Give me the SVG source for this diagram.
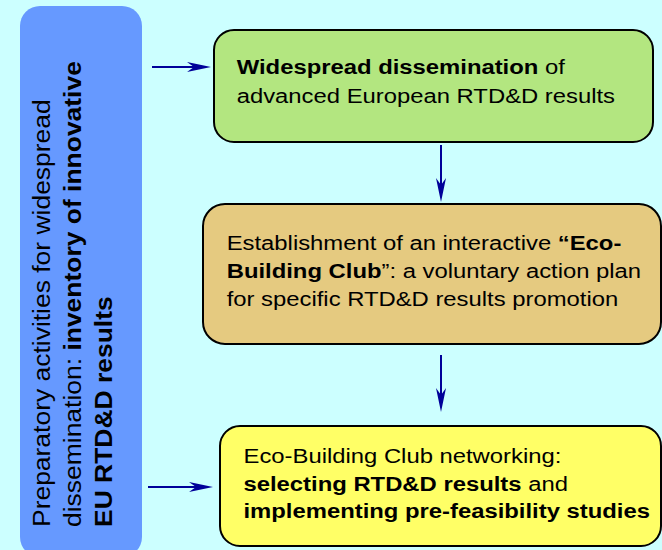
<svg xmlns="http://www.w3.org/2000/svg" width="662" height="550" viewBox="0 0 662 550">
<style>
.box{stroke:#000;stroke-width:2}
.t{font-family:"Liberation Sans",Arial,Helvetica,sans-serif;font-size:21px;fill:#000}
.lt{font-family:"Liberation Sans",Arial,Helvetica,sans-serif;font-size:24.5px;fill:#000}
.b{font-weight:bold}
.conn{stroke:#000099;stroke-width:2;fill:none;marker-end:url(#ah)}
</style>
<defs>
<marker id="ah" markerUnits="userSpaceOnUse" markerWidth="24" markerHeight="10" viewBox="0 0 24 10" refX="16" refY="5" orient="auto">
<path d="M0,0 L24,5 L0,10 L7,5 z" fill="#000099"/>
</marker>
</defs>
<rect x="0" y="0" width="662" height="550" fill="#CCFFFF"/>
<g id="prep">
<rect x="20" y="6" width="122" height="551" rx="20" ry="20" fill="#6699FF"/>
<g transform="translate(50,527) rotate(-90) scale(1.08,1)">
<text class="lt" x="0" y="0">Preparatory activities for widespread</text>
<text class="lt" x="0" y="31.5">dissemination: <tspan class="b">inventory of innovative</tspan></text>
<text class="lt b" x="0" y="61.7">EU RTD&amp;D results</text>
</g>
</g>
<g id="dissemination">
<rect class="box" x="214" y="30" width="439" height="112" rx="20" ry="20" fill="#B3E680"/>
<g transform="translate(236.7,74.3) scale(1.135,1)">
<text class="t" x="0" y="0"><tspan class="b">Widespread dissemination</tspan> of</text>
<text class="t" x="0" y="28.4">advanced European RTD&amp;D results</text>
</g>
</g>
<g id="club">
<rect class="box" x="203" y="204" width="458" height="140" rx="22" ry="22" fill="#E5CA80"/>
<g transform="translate(226.7,250.3) scale(1.135,1)">
<text class="t" x="0" y="0">Establishment of an interactive <tspan class="b">“Eco-</tspan></text>
<text class="t" x="0" y="27.6"><tspan class="b">Building Club</tspan>”: a voluntary action plan</text>
<text class="t" x="0" y="55.3">for specific RTD&amp;D results promotion</text>
</g>
</g>
<g id="networking">
<rect class="box" x="220" y="426" width="441" height="120" rx="20" ry="20" fill="#FFFF66"/>
<g transform="translate(243.5,463.3) scale(1.135,1)">
<text class="t" x="0" y="0">Eco-Building Club networking:</text>
<text class="t" x="0" y="27.5"><tspan class="b">selecting RTD&amp;D results</tspan> and</text>
<text class="t" x="0" y="55"><tspan class="b">implementing pre-feasibility studies</tspan></text>
</g>
</g>
<g id="connectors">
<line class="conn" x1="152" y1="67" x2="203" y2="67"/>
<line class="conn" x1="148" y1="487" x2="205" y2="487"/>
<line class="conn" x1="441" y1="145" x2="441" y2="194"/>
<line class="conn" x1="441" y1="355" x2="441" y2="404"/>
</g>
</svg>
